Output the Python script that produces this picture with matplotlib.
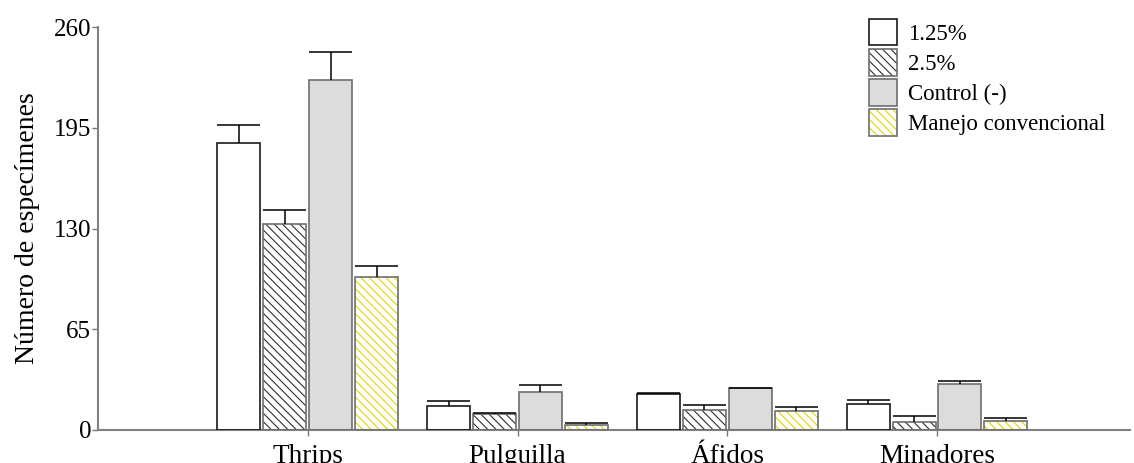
import numpy as np
import matplotlib
matplotlib.use("Agg")
from matplotlib import pyplot as plt
from matplotlib.patches import Rectangle
from matplotlib.legend_handler import HandlerTuple

plt.rcParams['font.family'] = ['Liberation Serif', 'DejaVu Serif']
plt.rcParams['hatch.linewidth'] = 0.8

# Insect counts per treatment (mean and upper error)
categories = ['Thrips', 'Pulguilla', 'Áfidos', 'Minadores']
treatments = ['1.25%', '2.5%', 'Control (-)', 'Manejo convencional']
means = {
    '1.25%':               [185.0, 15.7, 23.0, 16.6],
    '2.5%':                [133.0, 10.5, 13.1, 5.4],
    'Control (-)':         [226.0, 24.7, 27.1, 29.5],
    'Manejo convencional': [99.0, 3.2, 12.5, 6.0],
}
errors = {
    '1.25%':               [12.0, 2.8, 1.0, 2.5],
    '2.5%':                [9.0, 0.6, 3.2, 3.4],
    'Control (-)':         [18.0, 4.3, 0.0, 2.3],
    'Manejo convencional': [7.0, 1.3, 2.5, 1.9],
}

# fill, hatch, hatch colour, outline colour
styles = {
    '1.25%':               ('white', None, 'black', '#1a1a1a'),
    '2.5%':                ('white', '\\\\\\\\', '#303030', '#6e6e6e'),
    'Control (-)':         ('#dcdcdc', None, '#6e6e6e', '#6e6e6e'),
    'Manejo convencional': ('white', '\\\\\\\\', '#e3d400', '#6e6e6e'),
}

fig = plt.figure(figsize=(11.34, 4.63), dpi=100, facecolor='white')
ax = fig.add_axes([98 / 1134, 1 - 430 / 463, 1032 / 1134, 403 / 463])

x = np.arange(len(categories))
step = 0.219
width = 0.205
handles = []
for i, t in enumerate(treatments):
    fc, hatch, hc, ec = styles[t]
    pos = x + (i - 1.5) * step
    ax.bar(pos, means[t], width, color=fc, edgecolor=hc, linewidth=0,
           hatch=hatch, zorder=2)
    ax.bar(pos, means[t], width, facecolor='none', edgecolor=ec,
           linewidth=1.2, zorder=3)
    tops = np.array(means[t]) + np.array(errors[t])
    ax.vlines(pos, means[t], tops, color='black', linewidth=1.1, zorder=4)
    ax.hlines(tops, pos - width / 2, pos + width / 2, color='black',
              linewidth=1.1, zorder=4)
    h_fill = Rectangle((0, 0), 1, 1, facecolor=fc, edgecolor=hc, linewidth=0,
                       hatch=hatch)
    h_line = Rectangle((0, 0), 1, 1, facecolor='none', edgecolor=ec, linewidth=1.2)
    handles.append((h_fill, h_line))

ax.set_xlim(-1.0, 3.92)
ax.set_ylim(0, 260)
ax.set_yticks([0, 65, 130, 195, 260])
ax.set_xticks(x)
ax.set_xticklabels(categories, fontsize=19.5)
ax.tick_params(axis='y', labelsize=18, length=4, width=1, color='#777777', pad=1)
ax.tick_params(axis='x', length=4, width=1, color='#777777', pad=6)
for s in ['top', 'right']:
    ax.spines[s].set_visible(False)
for s in ['left', 'bottom']:
    ax.spines[s].set_color('#808080')
    ax.spines[s].set_linewidth(1.5)
ax.set_ylabel('Número de especímenes', fontsize=20, labelpad=10)

fig.legend(handles, treatments, handler_map={tuple: HandlerTuple(ndivide=1)},
           loc='upper left', bbox_to_anchor=(869 / 1134, 1 - 19 / 463),
           frameon=False, fontsize=16.5, borderpad=0, borderaxespad=0,
           handlelength=1.22, handleheight=1.4, labelspacing=0.16,
           handletextpad=0.5)

plt.savefig('out.png', dpi=100, facecolor='white')
